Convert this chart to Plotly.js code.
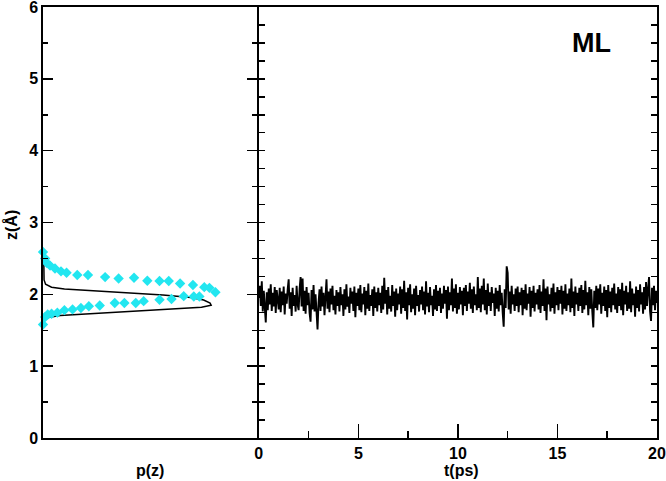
<!DOCTYPE html>
<html><head><meta charset="utf-8">
<script src="https://cdn.plot.ly/plotly-3.0.1.min.js"></script>
<style>html,body{margin:0;padding:0;background:#fff}</style>
</head><body><div id="chart" style="width:666px;height:481px"></div>
<script>
// Left panel: black probability curve p(z)
const curveZ = [2.60,2.50,2.30,2.20,2.14,2.10,2.075,2.05,2.02,1.99,1.955,1.92,1.88,1.85,1.82,1.80,1.78,1.755,1.73,1.705,1.68,1.655,1.62,1.55];
const curveP = [0.003,0.004,0.004,0.005,0.012,0.04,0.10,0.24,0.40,0.56,0.69,0.75,0.78,0.785,0.74,0.62,0.47,0.32,0.17,0.08,0.03,0.01,0.004,0.0];
// Left panel: cyan diamonds
const dotZ = [2.59,2.50,2.44,2.40,2.36,2.32,2.30,2.27,2.27,2.24,2.22,2.23,2.19,2.185,2.185,2.15,2.13,2.10,2.09,2.03,
              1.97,1.97,1.975,1.935,1.925,1.905,1.88,1.88,1.88,1.845,1.835,1.81,1.79,1.78,1.745,1.73,1.72,1.685,1.58];
const dotP = [0.0,0.01,0.017,0.033,0.056,0.084,0.11,0.16,0.21,0.29,0.353,0.425,0.487,0.544,0.587,0.64,0.70,0.753,0.777,0.805,
              0.73,0.704,0.657,0.60,0.544,0.47,0.433,0.38,0.335,0.265,0.214,0.177,0.138,0.10,0.067,0.04,0.022,0.01,0.0];
// Right panel: z(t), one value every 0.05 ps from 0 to 20 ps
const zTime = [
1.95,2.12,1.84,2.18,1.76,2.05,1.82,1.61,2.03,1.78,2.08,1.86,2.14,1.77,2.02,1.83,2.10,1.74,2.06,1.88,
1.79,2.09,1.75,2.04,1.85,2.11,1.72,2.01,1.87,2.07,2.21,1.80,2.03,1.70,2.09,1.84,1.99,1.76,2.12,1.86,
1.78,2.08,2.24,1.83,2.22,1.77,2.05,1.73,2.10,1.85,2.02,1.74,1.62,2.06,1.79,2.13,1.76,2.00,1.70,1.51,
1.88,2.07,1.77,2.11,1.83,2.02,1.71,2.09,2.21,1.80,2.04,1.75,2.08,1.86,2.12,1.78,1.98,1.72,2.06,1.84,
2.03,1.76,2.10,1.85,2.00,1.70,2.07,1.79,2.14,1.83,1.97,1.74,2.09,1.87,2.04,1.77,2.11,1.68,2.02,1.84,
2.08,1.78,2.13,1.75,2.01,1.86,2.10,1.71,2.05,1.80,2.15,1.77,1.99,1.84,2.07,1.70,2.11,1.81,2.03,1.76,
2.09,1.85,2.02,1.74,2.12,1.79,2.23,1.87,2.06,1.72,2.10,1.80,1.98,1.76,2.13,1.84,2.04,1.69,2.08,1.78,
2.01,1.86,2.11,1.73,2.07,1.81,2.19,1.77,2.03,1.65,2.09,1.85,2.14,1.75,2.00,1.80,2.08,1.71,2.12,1.84,
1.99,1.76,2.06,1.86,2.11,1.78,2.04,1.72,2.18,1.83,2.02,1.75,2.10,1.85,1.98,1.70,2.07,1.79,2.13,1.77,
2.05,1.84,2.09,1.74,2.01,1.80,2.12,1.87,2.06,1.66,2.11,1.78,2.03,1.85,2.22,1.76,2.08,1.81,2.14,1.73,
2.02,1.79,2.10,1.86,2.05,1.71,2.09,1.84,2.13,1.77,2.04,1.87,2.16,1.80,2.07,1.74,2.11,1.85,2.00,1.78,
2.24,1.81,2.08,1.75,2.12,1.86,2.22,1.78,2.06,1.72,2.15,1.84,2.03,1.77,2.10,1.88,2.01,1.70,2.09,1.80,
2.05,1.76,2.13,1.85,2.02,1.74,1.55,2.07,1.81,2.39,2.30,1.79,2.04,1.73,2.12,1.86,2.00,1.77,2.08,1.84,
2.11,1.75,2.03,1.85,2.09,1.71,2.06,1.80,2.14,1.78,2.01,1.87,2.10,1.69,2.05,1.81,2.12,1.76,2.02,1.86,
2.07,1.79,2.13,1.74,2.04,1.84,2.21,1.77,2.08,1.64,2.11,1.86,2.00,1.76,2.09,1.81,2.15,1.73,2.03,1.85,
2.10,1.78,2.06,1.87,2.12,1.72,2.05,1.80,2.14,1.77,2.01,1.85,2.08,1.75,2.22,1.81,2.04,1.70,2.11,1.86,
2.02,1.77,2.09,1.84,2.13,1.74,2.06,1.79,2.19,1.85,2.03,1.71,2.10,1.80,2.07,1.76,1.54,2.05,1.81,2.12,
1.78,2.08,1.86,2.14,1.73,2.02,1.84,2.11,1.77,2.06,1.68,2.13,1.81,2.04,1.75,2.09,1.85,2.15,1.79,2.01,
1.74,2.10,1.84,2.07,1.78,2.16,1.71,2.05,1.86,2.12,1.77,2.03,1.80,2.18,1.75,2.08,1.85,2.01,1.69,2.11,
1.81,2.06,1.76,2.14,1.86,2.03,1.73,2.10,1.79,2.17,1.84,2.07,2.24,1.77,1.63,2.09,1.85,2.12,1.78,2.05,
1.88];
const tStart = 0, tStep = 0.05;
const tTicks = [0,5,10,15,20];
const zTicks = [0,1,2,3,4,5,6];

const FONT = 'Liberation Sans, Arial, Helvetica, sans-serif';
const PW = 614;
const TF = {size: 16, family: FONT, weight: 'bold', color: '#000'};

const traces = [
  {x: curveP, y: curveZ, mode: 'lines', line: {color: '#000', width: 1.5}, xaxis: 'x', yaxis: 'y', hoverinfo: 'skip'},
  {x: dotP, y: dotZ, mode: 'markers', marker: {symbol: 'diamond', size: 8, color: '#22e6f0'}, cliponaxis: false, xaxis: 'x', yaxis: 'y'},
  {y: zTime, x0: tStart, dx: tStep, mode: 'lines', line: {color: '#000', width: 1.9}, xaxis: 'x2', yaxis: 'y2'}
];

const axLine = {showline: true, linecolor: '#000', linewidth: 1.6, showgrid: false, zeroline: false};
const layout = {
  width: 666, height: 481,
  margin: {l: 43, r: 9, t: 7, b: 43},
  paper_bgcolor: '#fff', plot_bgcolor: '#fff',
  showlegend: false,
  font: {family: FONT, color: '#000'},
  xaxis: Object.assign({}, axLine, {domain: [0, 214.2/PW], range: [0, 1], mirror: true, ticks: '', showticklabels: false, fixedrange: true}),
  yaxis: Object.assign({}, axLine, {range: [0, 6], tickvals: zTicks, ticktext: zTicks.map(String), ticks: 'inside', ticklen: 10, tickwidth: 1.5, tickcolor: '#000', mirror: 'ticks',
    tickfont: TF, ticklabeloverflow: 'allow',
    minor: {dtick: 0.5, ticks: 'inside', ticklen: 5, tickwidth: 1.5, tickcolor: '#000'}}),
  xaxis2: Object.assign({}, axLine, {domain: [215.8/PW, 1], range: [0, 20], anchor: 'y2', mirror: true, tickvals: tTicks, ticktext: tTicks.map(String), ticks: 'inside', ticklen: 14, tickwidth: 1.5, tickcolor: '#000',
    tickfont: TF, ticklabeloverflow: 'allow',
    minor: {dtick: 2.5, ticks: 'inside', ticklen: 7, tickwidth: 1.5, tickcolor: '#000'}}),
  yaxis2: Object.assign({}, axLine, {range: [0, 6], anchor: 'x2', dtick: 0.25, tick0: 0, ticks: 'inside', ticklen: 6, tickwidth: 1.5, tickcolor: '#000', mirror: 'ticks', showticklabels: false}),
  annotations: [
    {text: 'p(z)', xref: 'paper', yref: 'paper', x: 107/PW, y: -32/431, showarrow: false, xanchor: 'center', yanchor: 'middle', font: TF},
    {text: 't(ps)', xref: 'paper', yref: 'paper', x: 418/PW, y: -32/431, showarrow: false, xanchor: 'center', yanchor: 'middle', font: TF},
    {text: 'z(Å)', xref: 'paper', yref: 'paper', x: -32/PW, y: 213/431, textangle: -90, showarrow: false, xanchor: 'center', yanchor: 'middle', font: TF},
    {text: 'ML', xref: 'paper', yref: 'paper', x: 548/PW, y: 395/431, showarrow: false, xanchor: 'center', yanchor: 'middle', font: {size: 27, family: FONT, weight: 'bold'}}
  ]
};
Plotly.newPlot('chart', traces, layout, {staticPlot: true, displayModeBar: false});
</script></body></html>
